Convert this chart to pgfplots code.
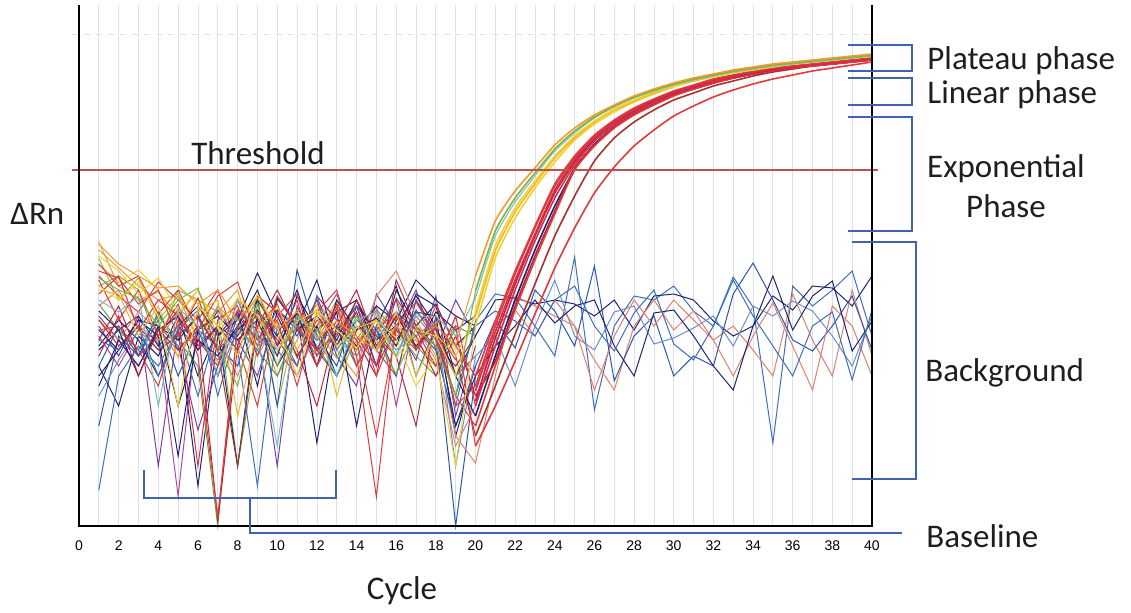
\documentclass[border=0pt]{standalone}
\usepackage{fontspec}
\setmainfont{Carlito}
\newfontfamily\tickfont{Liberation Sans}
\usepackage{pgfplots}
\pgfplotsset{compat=1.18}

\definecolor{cOr}{HTML}{F39A2B}
\definecolor{cYe}{HTML}{F2D22E}
\definecolor{cGr}{HTML}{7DB340}
\definecolor{cTe}{HTML}{6FBCC4}
\definecolor{cGo}{HTML}{F5B428}
\definecolor{cRe}{HTML}{E03A3A}
\definecolor{cRd}{HTML}{D42E4A}
\definecolor{cNv}{HTML}{1E2470}
\definecolor{cCr}{HTML}{C21F3A}
\definecolor{cDr}{HTML}{A8322D}
\definecolor{cPu}{HTML}{7B3F9E}
\definecolor{cMa}{HTML}{B54598}
\definecolor{cBl}{HTML}{2B56B0}
\definecolor{cSt}{HTML}{3E6FB8}
\definecolor{cLs}{HTML}{6A8FCC}
\definecolor{cSa}{HTML}{E0806F}
\definecolor{cOl}{HTML}{A7B83A}
\definecolor{cG2}{HTML}{5E9E3A}
\definecolor{gridc}{HTML}{DCE2EC}
\definecolor{thr}{HTML}{C0504D}
\definecolor{ann}{HTML}{3F63AE}
\definecolor{txt}{HTML}{1E1E1E}

\pgfplotsset{
  bg/.style={line width=0.5pt},
  amp/.style={line width=0.8pt, smooth, tension=0.35},
}

\begin{document}
\begin{tikzpicture}
% picture frame in pixel units of the reference (origin top left)
\begin{scope}[x=0.5pt,y=-0.5pt]
\path[use as bounding box] (0,0) rectangle (1131,612);
\end{scope}

\begin{axis}[
  at={(39.5pt,-263pt)}, anchor=south west,
  scale only axis, width=396.5pt, height=260.5pt,
  xmin=0, xmax=40, ymin=0, ymax=521,
  clip=false,
  axis line style={draw=none},
  xtick={0,2,...,40}, minor x tick num=1,
  xmajorgrids, xminorgrids,
  major grid style={draw=gridc, line width=0.4pt},
  minor grid style={draw=gridc, line width=0.4pt},
  major tick length=0pt, minor tick length=0pt,
  ytick=\empty,
  xticklabel style={font=\tickfont\fontsize{7}{8}\selectfont, text=black, yshift=-4pt},
  /pgf/number format/assume math mode=true,
]
\draw[gridc, dashed, line width=0.4pt] (axis cs:-0.35,492) -- (axis cs:40.3,492);

% background-only warm wells
\addplot[bg, cOr] coordinates {(1,276)(2,258)(3,240)(4,226)(5,232)(6,196)(7,214)(8,236)(9,170)(10,204)(11,190)(12,222)(13,176)(14,150)(15,210)(16,186)(17,206)(18,170)(19,196)};
\addplot[bg, cYe] coordinates {(1,262)(2,244)(3,256)(4,236)(5,200)(6,228)(7,160)(8,214)(9,226)(10,190)(11,170)(12,200)(13,214)(14,196)(15,160)(16,200)(17,180)(18,206)(19,176)};
\addplot[bg, cRe] coordinates {(1,250)(2,230)(3,214)(4,244)(5,226)(6,206)(7,236)(8,180)(9,120)(10,216)(11,200)(12,160)(13,196)(14,220)(15,176)(16,150)(17,226)(18,196)(19,166)};
\addplot[bg, cGr] coordinates {(1,240)(2,250)(3,236)(4,180)(5,236)(6,226)(7,214)(8,60)(9,180)(10,226)(11,206)(12,180)(13,150)(14,186)(15,216)(16,196)(17,170)(18,150)(19,200)};
\addplot[bg, cOr] coordinates {(1,284)(2,240)(3,226)(4,234)(5,210)(6,236)(7,190)(8,226)(9,206)(10,150)(11,186)(12,226)(13,196)(14,176)(15,196)(16,226)(17,186)(18,160)(19,210)};
\addplot[bg, cOl] coordinates {(1,268)(2,226)(3,248)(4,206)(5,230)(6,186)(7,220)(8,200)(9,230)(10,120)(11,206)(12,190)(13,226)(14,170)(15,200)(16,180)(17,210)(18,186)(19,150)};

% non-amplified wells that fade out after cycle 20
\addplot[bg, cNv] coordinates {(1,180)(2,206)(3,186)(4,150)(5,196)(6,40)(7,190)(8,214)(9,140)(10,228)(11,200)(12,246)(13,180)(14,214)(15,160)(16,236)(17,200)(18,222)(19,180)(20,200)};
\addplot[bg, cBl] coordinates {(1,100)(2,190)(3,170)(4,206)(5,150)(6,196)(7,180)(8,160)(9,226)(10,120)(11,256)(12,190)(13,160)(14,220)(15,196)(16,150)(17,226)(18,188)(19,0)(20,150)};
\addplot[bg, cPu] coordinates {(1,200)(2,170)(3,210)(4,60)(5,200)(6,176)(7,216)(8,186)(9,150)(10,214)(11,190)(12,226)(13,170)(14,140)(15,232)(16,200)(17,166)(18,230)(19,110)(20,180)};
\addplot[bg, cMa] coordinates {(1,190)(2,160)(3,196)(4,186)(5,30)(6,210)(7,150)(8,196)(9,210)(10,176)(11,150)(12,200)(13,232)(14,176)(15,220)(16,120)(17,214)(18,196)(19,150)(20,170)};
\addplot[bg, cNv] coordinates {(1,160)(2,120)(3,190)(4,170)(5,210)(6,150)(7,196)(8,60)(9,210)(10,170)(11,230)(12,196)(13,214)(14,100)(15,200)(16,240)(17,176)(18,214)(19,196)(20,210)};
\addplot[bg, cPu] coordinates {(1,210)(2,186)(3,160)(4,200)(5,180)(6,96)(7,160)(8,214)(9,196)(10,60)(11,220)(12,176)(13,190)(14,220)(15,160)(16,196)(17,236)(18,176)(19,226)(20,190)};
\addplot[bg, cNv] coordinates {(1,150)(2,176)(3,206)(4,190)(5,70)(6,196)(7,210)(8,190)(9,226)(10,196)(11,212)(12,83)(13,200)(14,180)(15,206)(16,186)(17,214)(18,210)(19,90)(20,160)};
\addplot[bg, cG2] coordinates {(1,222)(2,196)(3,176)(4,210)(5,186)(6,160)(7,0)(8,200)(9,176)(10,150)(11,200)(12,170)(13,196)(14,210)(15,176)(16,196)(17,180)(18,160)(19,200)(20,190)};
\addplot[bg, cNv] coordinates {(1,176)(2,196)(3,210)(4,180)(5,200)(6,220)(7,190)(8,206)(9,253)(10,210)(11,170)(12,200)(13,150)(14,196)(15,220)(16,205)(17,246)(18,226)(19,210)(20,200)};
\addplot[bg, cCr] coordinates {(1,186)(2,220)(3,170)(4,190)(5,216)(6,180)(7,200)(8,176)(9,214)(10,186)(11,160)(12,230)(13,206)(14,186)(15,150)(16,246)(17,200)(18,180)(19,160)(20,190)};

% non-amplified wells continuing to cycle 40
\addplot[bg, cSt] coordinates {(1,36)(2,150)(3,180)(4,160)(5,196)(6,130)(7,200)(8,176)(9,40)(10,200)(11,160)(12,230)(13,176)(14,206)(15,190)(16,226)(17,150)(18,200)(19,120)(20,205)(21,232)(22,228)(23,200)(24,170)(25,269)(26,116)(27,200)(28,230)(29,226)(30,240)(31,215)(32,200)(33,249)(34,219)(35,83)(36,240)(37,220)(38,236)(39,255)(40,190)};
\addplot[bg, cNv] coordinates {(1,196)(2,176)(3,206)(4,200)(5,186)(6,210)(7,176)(8,196)(9,216)(10,190)(11,236)(12,176)(13,214)(14,226)(15,186)(16,200)(17,230)(18,200)(19,150)(20,190)(21,226)(22,228)(23,222)(24,226)(25,222)(26,210)(27,226)(28,196)(29,230)(30,232)(31,226)(32,205)(33,190)(34,200)(35,230)(36,216)(37,240)(38,238)(39,220)(40,250)};
\addplot[bg, cSa] coordinates {(1,220)(2,236)(3,200)(4,186)(5,214)(6,176)(7,220)(8,186)(9,196)(10,176)(11,200)(12,186)(13,220)(14,176)(15,230)(16,255)(17,210)(18,186)(19,90)(20,63)(21,150)(22,230)(23,220)(24,210)(25,200)(26,166)(27,136)(28,200)(29,226)(30,196)(31,215)(32,186)(33,200)(34,176)(35,150)(36,232)(37,186)(38,150)(39,236)(40,170)};
\addplot[bg, cBl] coordinates {(1,160)(2,200)(3,170)(4,214)(5,176)(6,196)(7,150)(8,210)(9,186)(10,216)(11,196)(12,176)(13,150)(14,200)(15,186)(16,214)(17,196)(18,176)(19,100)(20,160)(21,206)(22,178)(23,236)(24,215)(25,180)(26,260)(27,145)(28,190)(29,210)(30,150)(31,170)(32,160)(33,232)(34,263)(35,226)(36,186)(37,175)(38,200)(39,230)(40,176)};
\addplot[bg, cLs] coordinates {(1,130)(2,166)(3,196)(4,176)(5,200)(6,186)(7,166)(8,196)(9,176)(10,200)(11,150)(12,196)(13,186)(14,170)(15,200)(16,176)(17,190)(18,206)(19,60)(20,170)(21,190)(22,140)(23,200)(24,246)(25,190)(26,176)(27,214)(28,220)(29,182)(30,188)(31,198)(32,210)(33,180)(34,220)(35,210)(36,225)(37,215)(38,190)(39,160)(40,210)};
\addplot[bg, cSa] coordinates {(1,206)(2,186)(3,214)(4,196)(5,170)(6,200)(7,190)(8,150)(9,200)(10,186)(11,216)(12,196)(13,220)(14,160)(15,214)(16,190)(17,200)(18,166)(19,80)(20,120)(21,200)(22,216)(23,190)(24,226)(25,200)(26,136)(27,190)(28,226)(29,200)(30,226)(31,206)(32,186)(33,150)(34,190)(35,223)(36,180)(37,136)(38,220)(39,200)(40,150)};
\addplot[bg, cNv] coordinates {(1,140)(2,186)(3,160)(4,196)(5,210)(6,176)(7,200)(8,186)(9,206)(10,160)(11,196)(12,210)(13,186)(14,226)(15,176)(16,210)(17,180)(18,200)(19,100)(20,150)(21,180)(22,200)(23,226)(24,203)(25,220)(26,226)(27,180)(28,150)(29,213)(30,216)(31,190)(32,160)(33,136)(34,200)(35,250)(36,196)(37,230)(38,245)(39,175)(40,205)};
\addplot[bg, cSt] coordinates {(1,186)(2,176)(3,200)(4,150)(5,196)(6,216)(7,130)(8,200)(9,190)(10,176)(11,206)(12,186)(13,200)(14,160)(15,196)(16,170)(17,216)(18,186)(19,130)(20,200)(21,215)(22,205)(23,190)(24,226)(25,240)(26,200)(27,175)(28,213)(29,236)(30,182)(31,166)(32,200)(33,246)(34,210)(35,180)(36,150)(37,200)(38,214)(39,146)(40,216)};

% amplified wells: noisy baseline (cycles 1-20), then the rise (cycles 20-40)
\addplot[bg, cDr] coordinates {(1,206)(2,180)(3,200)(4,176)(5,190)(6,210)(7,176)(8,60)(9,200)(10,236)(11,196)(12,216)(13,180)(14,226)(15,190)(16,170)(17,100)(18,210)(19,170)(20,90)};
\addplot[bg, cRe] coordinates {(1,196)(2,200)(3,176)(4,140)(5,206)(6,186)(7,160)(8,226)(9,180)(10,206)(11,140)(12,214)(13,236)(14,170)(15,29)(16,210)(17,196)(18,180)(19,200)(20,80)};
\addplot[bg, cNv] coordinates {(1,215)(2,196)(3,150)(4,200)(5,120)(6,186)(7,170)(8,200)(9,236)(10,180)(11,214)(12,160)(13,226)(14,196)(15,208)(16,180)(17,232)(18,220)(19,150)(20,110)};
\addplot[bg, cCr] coordinates {(1,170)(2,210)(3,150)(4,196)(5,176)(6,200)(7,6)(8,180)(9,230)(10,214)(11,176)(12,120)(13,200)(14,236)(15,180)(16,210)(17,190)(18,150)(19,190)(20,130)};
\addplot[bg, cRe] coordinates {(1,255)(2,248)(3,222)(4,236)(5,190)(6,228)(7,175)(8,216)(9,200)(10,222)(11,168)(12,206)(13,192)(14,214)(15,150)(16,200)(17,224)(18,190)(19,130)(20,100)};
\addplot[bg, cRd] coordinates {(1,232)(2,250)(3,196)(4,226)(5,210)(6,60)(7,206)(8,220)(9,170)(10,230)(11,200)(12,176)(13,222)(14,190)(15,160)(16,228)(17,196)(18,160)(19,210)(20,120)};
\addplot[bg, cRe] coordinates {(1,246)(2,206)(3,236)(4,190)(5,222)(6,170)(7,10)(8,200)(9,214)(10,182)(11,226)(12,160)(13,206)(14,186)(15,90)(16,196)(17,176)(18,220)(19,180)(20,150)};
\addplot[bg, cRe] coordinates {(1,262)(2,240)(3,250)(4,212)(5,236)(6,196)(7,230)(8,244)(9,186)(10,210)(11,232)(12,170)(13,218)(14,160)(15,196)(16,214)(17,176)(18,200)(19,120)(20,140)};
\addplot[bg, cYe] coordinates {(1,240)(2,226)(3,244)(4,210)(5,120)(6,220)(7,200)(8,170)(9,232)(10,198)(11,150)(12,216)(13,196)(14,178)(15,206)(16,188)(17,140)(18,170)(19,60)(20,200)};
\addplot[bg, cGo] coordinates {(1,236)(2,232)(3,190)(4,220)(5,168)(6,214)(7,226)(8,110)(9,196)(10,220)(11,176)(12,212)(13,130)(14,200)(15,176)(16,214)(17,150)(18,192)(19,170)(20,210)};
\addplot[bg, cYe] coordinates {(1,270)(2,255)(3,232)(4,248)(5,214)(6,236)(7,198)(8,228)(9,210)(10,176)(11,205)(12,215)(13,180)(14,198)(15,205)(16,168)(17,196)(18,190)(19,150)(20,215)};
\addplot[bg, cTe] coordinates {(1,226)(2,214)(3,230)(4,120)(5,218)(6,200)(7,150)(8,226)(9,190)(10,80)(11,210)(12,190)(13,150)(14,206)(15,214)(16,170)(17,210)(18,210)(19,190)(20,228)};
\addplot[bg, cGr] coordinates {(1,248)(2,236)(3,228)(4,200)(5,226)(6,238)(7,180)(8,140)(9,222)(10,160)(11,210)(12,196)(13,168)(14,210)(15,186)(16,152)(17,198)(18,180)(19,130)(20,235)};
\addplot[bg, cOr] coordinates {(1,282)(2,262)(3,250)(4,238)(5,240)(6,222)(7,236)(8,205)(9,228)(10,196)(11,214)(12,188)(13,205)(14,190)(15,176)(16,200)(17,185)(18,200)(19,180)(20,250)};

\addplot[amp, cDr] coordinates {(20,90)(21,140)(22,192)(23,242)(24,290)(25,330)(26,365)(27,388)(28,404)(29,416)(30,426)(31,433)(32,440)(33,445)(34,450)(35,454)(36,457)(37,460)(38,462)(39,464)(40,466)};
\addplot[amp, cRe] coordinates {(20,80)(21,120)(22,165)(23,212)(24,258)(25,298)(26,333)(27,359)(28,380)(29,396)(30,410)(31,420)(32,429)(33,436)(34,442)(35,447)(36,451)(37,455)(38,458)(39,461)(40,464)};
\addplot[amp, cNv] coordinates {(20,110)(21,170)(22,226)(23,276)(24,320)(25,357)(26,382)(27,399)(28,412)(29,422)(30,431)(31,437)(32,443)(33,448)(34,452)(35,455)(36,458)(37,461)(38,463)(39,465)(40,467)};
\addplot[amp, cCr] coordinates {(20,130)(21,165)(22,220)(23,270)(24,315)(25,358)(26,381)(27,399)(28,412)(29,422)(30,431)(31,437)(32,443)(33,448)(34,452)(35,455)(36,458)(37,460)(38,462)(39,464)(40,466)};
\addplot[amp, cRe] coordinates {(20,100)(21,160)(22,216)(23,266)(24,312)(25,356)(26,380)(27,398)(28,411)(29,421)(30,430)(31,437)(32,443)(33,448)(34,452)(35,455)(36,458)(37,460)(38,462)(39,464)(40,466)};
\addplot[amp, cRd] coordinates {(20,120)(21,180)(22,236)(23,285)(24,328)(25,361)(26,385)(27,401)(28,414)(29,424)(30,432)(31,438)(32,444)(33,449)(34,453)(35,456)(36,459)(37,461)(38,463)(39,465)(40,467)};
\addplot[amp, cCr] coordinates {(20,125)(21,188)(22,242)(23,290)(24,333)(25,364)(26,387)(27,403)(28,415)(29,425)(30,433)(31,439)(32,445)(33,449)(34,453)(35,456)(36,459)(37,461)(38,463)(39,465)(40,467)};
\addplot[amp, cRe] coordinates {(20,150)(21,205)(22,255)(23,300)(24,342)(25,370)(26,391)(27,406)(28,418)(29,427)(30,435)(31,441)(32,447)(33,451)(34,455)(35,458)(36,460)(37,462)(38,464)(39,466)(40,468)};
\addplot[amp, cRe] coordinates {(20,140)(21,200)(22,252)(23,298)(24,340)(25,368)(26,390)(27,405)(28,417)(29,426)(30,434)(31,440)(32,446)(33,450)(34,454)(35,457)(36,460)(37,462)(38,464)(39,466)(40,468)};
\addplot[amp, cRd] coordinates {(20,135)(21,194)(22,246)(23,292)(24,336)(25,366)(26,388)(27,404)(28,416)(29,426)(30,434)(31,440)(32,445)(33,450)(34,454)(35,457)(36,459)(37,461)(38,463)(39,465)(40,467)};
\addplot[amp, cYe] coordinates {(20,200)(21,268)(22,308)(23,338)(24,364)(25,386)(26,402)(27,414)(28,424)(29,432)(30,439)(31,445)(32,449)(33,453)(34,456)(35,459)(36,462)(37,464)(38,466)(39,468)(40,470)};
\addplot[amp, cGo] coordinates {(20,210)(21,275)(22,314)(23,342)(24,368)(25,388)(26,404)(27,416)(28,425)(29,433)(30,440)(31,445)(32,450)(33,454)(34,457)(35,460)(36,462)(37,464)(38,466)(39,468)(40,470)};
\addplot[amp, cYe] coordinates {(20,215)(21,280)(22,318)(23,345)(24,370)(25,390)(26,405)(27,417)(28,426)(29,434)(30,440)(31,446)(32,450)(33,454)(34,457)(35,460)(36,462)(37,464)(38,466)(39,468)(40,470)};
\addplot[amp, cTe, line width=0.5pt] coordinates {(20,228)(21,290)(22,324)(23,350)(24,375)(25,393)(26,408)(27,419)(28,428)(29,435)(30,441)(31,446)(32,450)(33,454)(34,457)(35,460)(36,462)(37,464)(38,466)(39,468)(40,470)};
\addplot[amp, cGr] coordinates {(20,235)(21,295)(22,328)(23,353)(24,377)(25,395)(26,409)(27,420)(28,429)(29,436)(30,442)(31,447)(32,451)(33,455)(34,458)(35,461)(36,463)(37,465)(38,467)(39,469)(40,471)};
\addplot[amp, cOr] coordinates {(20,250)(21,305)(22,335)(23,358)(24,381)(25,398)(26,411)(27,421)(28,430)(29,437)(30,443)(31,448)(32,452)(33,456)(34,459)(35,462)(36,464)(37,466)(38,468)(39,470)(40,472)};

% threshold
\draw[thr, line width=0.75pt] (axis cs:-0.35,356) -- (axis cs:40.3,356);

% axis frame (left, bottom, right)
\draw[black, line width=0.7pt] (rel axis cs:0,1) -- (rel axis cs:0,0) -- (rel axis cs:1,0) -- (rel axis cs:1,1);
\end{axis}

% annotations, in pixel units of the reference
\begin{scope}[x=0.5pt,y=-0.5pt, every node/.style={inner sep=0pt, text=txt, font=\fontsize{16.5}{19}\selectfont}]
\draw[ann, line width=1.3pt, line join=miter] (848,45) -- (912,45) -- (912,71) -- (848,71);
\draw[ann, line width=1.3pt, line join=miter] (848,78) -- (912,78) -- (912,105) -- (848,105);
\draw[ann, line width=1.3pt, line join=miter] (848,117) -- (912,117) -- (912,231) -- (848,231);
\draw[ann, line width=1.3pt, line join=miter] (852,242) -- (916,242) -- (916,479) -- (852,479);
\draw[ann, line width=1.3pt, line join=miter] (144,470) -- (144,498) -- (336,498) -- (336,470);
\draw[ann, line width=1.3pt, line join=miter] (250,498) -- (250,533) -- (902,533);
\node[anchor=base west] at (927,69) {Plateau phase};
\node[anchor=base west] at (927,103) {Linear phase};
\node[anchor=base] at (1006,177) {Exponential};
\node[anchor=base] at (1006,217) {Phase};
\node[anchor=base west] at (925,381) {Background};
\node[anchor=base west] at (926,547) {Baseline};
\node[anchor=base west] at (10,224) {ΔRn};
\node[anchor=base] at (402,599) {Cycle};
\node[anchor=base] at (258,164) {Threshold};
\end{scope}
\end{tikzpicture}
\end{document}
